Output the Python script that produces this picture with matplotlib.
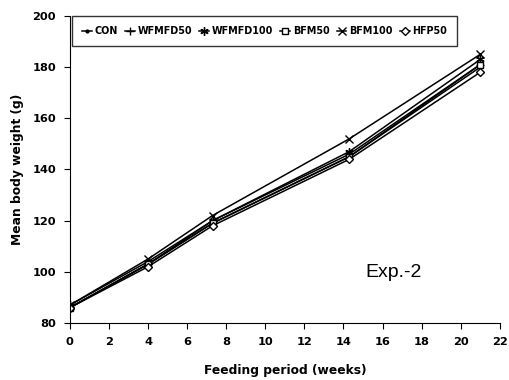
import matplotlib
matplotlib.use("Agg")
import matplotlib.pyplot as plt

weeks = [0, 4, 7.3, 14.3, 21]
con = [86, 103, 119, 145, 180]
wfmfd50 = [86, 103, 120, 146, 181]
wfmfd100 = [87, 104, 120, 147, 183]
bfm50 = [86, 103, 119, 145, 181]
bfm100 = [87, 105, 122, 152, 185]
hfp50 = [86, 102, 118, 144, 178]

labels = ["CON", "WFMFD50", "WFMFD100", "BFM50", "BFM100", "HFP50"]
series = [con, wfmfd50, wfmfd100, bfm50, bfm100, hfp50]
markers = [".", "+", (6, 2, 0), "s", "x", "D"]
msizes = [4, 6, 6, 4, 6, 4]
fills = ["black", "black", "black", "white", "black", "white"]

plt.rcParams['font.family'] = ['DejaVu Sans']

fig = plt.figure(figsize=(5.1, 3.8), dpi=100)
ax = fig.add_axes([0.137, 0.150, 0.843, 0.808])

for y, lab, m, ms, fc in zip(series, labels, markers, msizes, fills):
    ax.plot(weeks, y, color="black", lw=1.1, marker=m, ms=ms,
            markerfacecolor=fc, markeredgecolor="black", mew=1.0, label=lab)

ax.set_xlim(0, 22)
ax.set_ylim(80, 200)
ax.set_xticks(range(0, 23, 2))
ax.set_yticks(range(80, 201, 20))
for t in ax.get_xticklabels() + ax.get_yticklabels():
    t.set_fontweight("bold")
    t.set_fontsize(8.2)
ax.tick_params(direction="out", length=4, width=0.8, pad=6)
ax.spines["right"].set_visible(False)
ax.spines["top"].set_visible(False)

ax.set_xlabel("Feeding period (weeks)", fontsize=8.8, fontweight="bold", labelpad=12)
ax.set_ylabel("Mean body weight (g)", fontsize=8.8, fontweight="bold", labelpad=6)

leg = ax.legend(loc="upper left", bbox_to_anchor=(0.005, 1.0), ncol=6,
                borderaxespad=0.0,
                frameon=True, fancybox=False, edgecolor="black",
                handlelength=1.0, handletextpad=0.3, columnspacing=0.75,
                borderpad=1.05, prop={"weight": "bold", "size": 6.9})
leg.get_frame().set_linewidth(1.0)

ax.text(15.1, 98, "Exp.-2", fontsize=14, family="Liberation Sans")

fig.savefig("out.png", dpi=100)
